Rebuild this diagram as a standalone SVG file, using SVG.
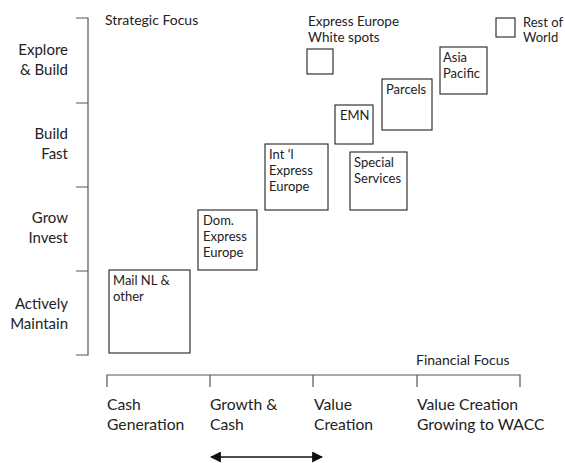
<svg xmlns="http://www.w3.org/2000/svg" width="565" height="463" viewBox="0 0 565 463">
  <style>
    .axis { stroke: #555; stroke-width: 1.2; fill: none; }
    .box { fill: #fff; stroke: #222; stroke-width: 1.1; }
    text { font-family: Lato, "Open Sans", "Liberation Sans", sans-serif; fill: #222; }
    .lvl { font-size: 15px; text-anchor: end; }
    .lbl { font-size: 13px; }
    .cap { font-size: 14px; }
    .fin { font-size: 15.7px; }
    .conn { stroke: #111; stroke-width: 1.4; fill: none; }
  </style>
  <defs>
    <marker id="head" viewBox="0 0 10 10" refX="9" refY="5" markerWidth="11" markerHeight="11" markerUnits="userSpaceOnUse" orient="auto-start-reverse">
      <path d="M0,0 L10,5 L0,10 Z" fill="#111"/>
    </marker>
  </defs>

  <rect width="565" height="463" fill="#fff"/>

  <!-- vertical axis: strategic focus -->
  <g id="strategic-axis">
    <path class="axis" d="M76,18 H88 V355 H76 M76,103 H88 M76,187 H88 M76,271 H88"/>
    <text class="cap" x="105" y="25">Strategic Focus</text>
    <text class="lvl" x="68" y="55">Explore</text>
    <text class="lvl" x="68" y="75">&amp; Build</text>
    <text class="lvl" x="68" y="139">Build</text>
    <text class="lvl" x="68" y="159">Fast</text>
    <text class="lvl" x="68" y="223">Grow</text>
    <text class="lvl" x="68" y="243">Invest</text>
    <text class="lvl" x="68" y="309">Actively</text>
    <text class="lvl" x="68" y="329">Maintain</text>
  </g>

  <!-- horizontal axis: financial focus -->
  <g id="financial-axis">
    <path class="axis" d="M107,387 V375 H520 V387 M210,375 V387 M313,375 V387 M417,375 V387"/>
    <text class="cap" x="416" y="365">Financial Focus</text>
    <text class="fin" x="107" y="410">Cash</text>
    <text class="fin" x="107" y="430">Generation</text>
    <text class="fin" x="210" y="410">Growth &amp;</text>
    <text class="fin" x="210" y="430">Cash</text>
    <text class="fin" x="314" y="410">Value</text>
    <text class="fin" x="314" y="430">Creation</text>
    <text class="fin" x="417" y="410">Value Creation</text>
    <text class="fin" x="417" y="430">Growing to WACC</text>
  </g>

  <!-- business units -->
  <g id="mail-nl">
    <rect class="box" x="109" y="270" width="81" height="83"/>
    <text class="lbl" x="113" y="285">Mail NL &amp;</text>
    <text class="lbl" x="113" y="301">other</text>
  </g>
  <g id="dom-express">
    <rect class="box" x="198" y="210" width="59" height="60"/>
    <text class="lbl" x="203" y="225">Dom.</text>
    <text class="lbl" x="203" y="241">Express</text>
    <text class="lbl" x="203" y="257">Europe</text>
  </g>
  <g id="intl-express">
    <rect class="box" x="265" y="144" width="63" height="66"/>
    <text class="lbl" x="269" y="159">Int ‘l</text>
    <text class="lbl" x="269" y="175">Express</text>
    <text class="lbl" x="269" y="191">Europe</text>
  </g>
  <g id="emn">
    <rect class="box" x="335" y="105" width="38" height="39"/>
    <text class="lbl" x="340" y="120">EMN</text>
  </g>
  <g id="special-services">
    <rect class="box" x="350" y="152" width="57" height="58"/>
    <text class="lbl" x="354" y="167">Special</text>
    <text class="lbl" x="354" y="183">Services</text>
  </g>
  <g id="parcels">
    <rect class="box" x="382" y="79" width="50" height="51"/>
    <text class="lbl" x="386" y="94">Parcels</text>
  </g>
  <g id="asia-pacific">
    <rect class="box" x="440" y="47" width="47" height="47"/>
    <text class="lbl" x="443" y="62">Asia</text>
    <text class="lbl" x="443" y="78">Pacific</text>
  </g>
  <g id="white-spots">
    <rect class="box" x="307" y="49" width="26" height="25"/>
    <text class="lbl" x="308" y="26" style="font-size:13.5px">Express Europe</text>
    <text class="lbl" x="308" y="42" style="font-size:13.5px">White spots</text>
  </g>
  <g id="rest-of-world">
    <rect class="box" x="496" y="18" width="19" height="19"/>
    <text class="lbl" x="523" y="27">Rest of</text>
    <text class="lbl" x="523" y="42">World</text>
  </g>

  <!-- connectors -->
  <g id="connectors">
    <line class="conn" x1="211" y1="457" x2="322" y2="457" marker-start="url(#head)" marker-end="url(#head)"/>
  </g>
</svg>
